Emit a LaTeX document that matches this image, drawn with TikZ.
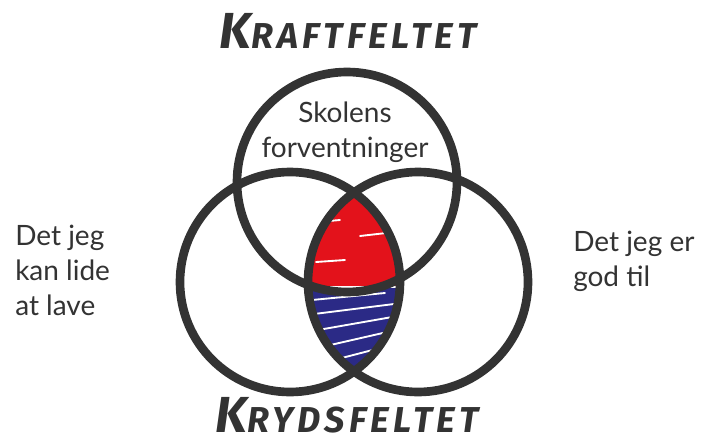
\documentclass[tikz,border=0pt]{standalone}
\usepackage{fontspec}
\setmainfont{Lato}
\newfontfamily\titlefont[LetterSpace=12]{Fira Sans}
\definecolor{ink}{HTML}{333333}
\definecolor{lensred}{HTML}{E3121B}
\definecolor{lensblue}{HTML}{2B2A86}
\begin{document}
\begin{tikzpicture}[x=0.75pt,y=-0.75pt,
  ring/.style={draw=ink,line width=6.5pt},
  hand/.style={text=ink,inner sep=0pt,font=\fontsize{21}{26}\selectfont,align=left},
  title/.style={text=ink,inner sep=0pt,font=\titlefont\bfseries\itshape},
  scribble/.style={draw=white,line width=1.4pt,line cap=round}]
\useasboundingbox (0,0) rectangle (721,443);
% lens fill
\begin{scope}
  \clip (290,282) circle (110);
  \clip (418,282) circle (110);
  \fill[lensred] (280,180) rectangle (430,287);
  \fill[lensblue] (280,287) rectangle (430,380);
  \draw[scribble] (300,287) -- (410,287);
  \draw[scribble] (312,300) -- (385,293) (314,314) -- (394,304) (318,330) -- (398,316)
     (326,346) -- (396,330) (334,360) -- (388,346);
  \draw[scribble] (318,222) -- (340,220) (360,236) -- (395,232) (316,262) -- (345,260);
\end{scope}
% circles
\node[ring,circle,minimum size=220*0.75pt,inner sep=0pt] (top) at (347,182) {};
\node[ring,circle,minimum size=220*0.75pt,inner sep=0pt] (left) at (290,282) {};
\node[ring,circle,minimum size=220*0.75pt,inner sep=0pt] (right) at (418,282) {};
% texts
\node[hand,align=center,anchor=base] (skole) at (345,157) {Skolens\\forventninger};
\node[hand,anchor=north west] (lide) at (15,225) {Det jeg\\kan lide\\at lave};
\node[hand,anchor=north west] (god) at (573,231) {Det jeg er\\god til};
% titles
\node[title,anchor=base] (kraft) at (348,48)
  {{\fontsize{38}{38}\selectfont K}{\fontsize{27}{27}\selectfont RAFTFELTET}};
\node[title,anchor=base] (kryds) at (347,432)
  {{\fontsize{38}{38}\selectfont K}{\fontsize{27}{27}\selectfont RYDSFELTET}};
\end{tikzpicture}
\end{document}
